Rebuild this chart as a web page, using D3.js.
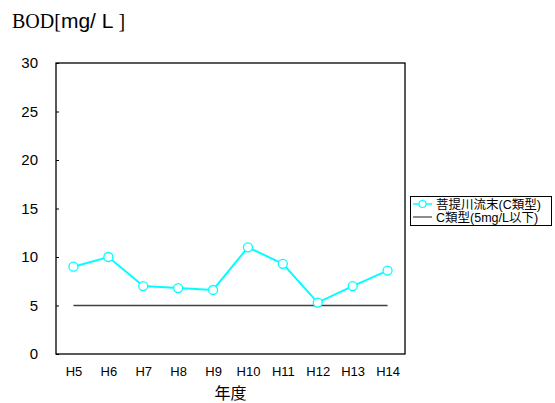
<!DOCTYPE html>
<html><head><meta charset="utf-8">
<script src="https://cdn.jsdelivr.net/npm/d3@7"></script>
<style>body{margin:0;background:#fff}svg{display:block}
.serif{font-family:"Liberation Serif","DejaVu Serif","Times New Roman",Times,serif}
.narrow{font-family:"Liberation Sans Narrow","Liberation Sans",Arial,sans-serif}</style>
</head><body>
<script>
const categories = ["H5","H6","H7","H8","H9","H10","H11","H12","H13","H14"];
const bodValues = [9.0,10.0,7.0,6.8,6.6,11.0,9.3,5.3,7.0,8.6];
const standardValues = [5,5,5,5,5,5,5,5,5,5];
const yTicks = [0,5,10,15,20,25,30];
const seriesNames = ["菩提川流末(C類型)","C類型(5mg/L以下)"];

const W=555,H=403;
const svg=d3.select("body").append("svg").attr("width",W).attr("height",H);
const m={l:56,r:405,t:63,b:354};
const x=d3.scalePoint().domain(categories).range([m.l,m.r]).padding(0.5);
const y=d3.scaleLinear().domain([0,30]).range([m.b,m.t]);
const font="'Liberation Sans',Arial,'Noto Sans CJK JP',sans-serif";

svg.append("rect").attr("x",m.l).attr("y",m.t).attr("width",m.r-m.l).attr("height",m.b-m.t)
  .attr("fill","none").attr("stroke","#000").attr("stroke-width",1.3);

const ya=svg.append("g").attr("transform",`translate(${m.l},0)`)
  .call(d3.axisLeft(y).tickValues(yTicks).tickSize(-3).tickPadding(18));
ya.select(".domain").remove();
ya.selectAll("line").attr("stroke","#000");
ya.selectAll("text").attr("font-family",font).attr("font-size",15).attr("fill","#000");

const xa=svg.append("g").attr("transform",`translate(0,${m.b})`)
  .call(d3.axisBottom(x).tickSize(0).tickPadding(13));
xa.select(".domain").remove();
xa.selectAll("text").attr("font-family",font).attr("font-size",13).attr("fill","#000");

svg.append("text").attr("x",(m.l+m.r)/2).attr("y",399).attr("text-anchor","middle")
  .attr("font-family",font).attr("font-size",16).text("年度");

const t=svg.append("text").attr("x",12).attr("y",28).attr("class","serif").attr("font-size",20);
t.append("tspan").text("BOD[");
t.append("tspan").attr("class","narrow").attr("font-size",21).text("mg/ L");
t.append("tspan").text(" ]");

const line=d3.line().x((d,i)=>x(categories[i])).y(d=>y(d));
svg.append("path").datum(standardValues).attr("d",line).attr("fill","none").attr("stroke","#404040").attr("stroke-width",1.5);
svg.append("path").datum(bodValues).attr("d",line).attr("fill","none").attr("stroke","#00FFFF").attr("stroke-width",2);
svg.selectAll("circle.pt").data(bodValues).enter().append("circle").attr("class","pt")
  .attr("cx",(d,i)=>x(categories[i])).attr("cy",d=>y(d)).attr("r",4.5)
  .attr("fill","#fff").attr("stroke","#00FFFF").attr("stroke-width",1.3);

// legend
const lg=svg.append("g");
lg.append("rect").attr("x",410.5).attr("y",196.5).attr("width",141).attr("height",29)
  .attr("fill","#fff").attr("stroke","#000").attr("stroke-width",1);
const rows=[{c:"#00FFFF",mk:true},{c:"#404040",mk:false}];
rows.forEach((r,i)=>{
  const cy=204+i*13;
  lg.append("line").attr("x1",413).attr("x2",432).attr("y1",cy).attr("y2",cy).attr("stroke",r.c).attr("stroke-width",r.mk?1.5:1.2);
  if(r.mk) lg.append("circle").attr("cx",422.5).attr("cy",cy).attr("r",3.5).attr("fill","#fff").attr("stroke",r.c).attr("stroke-width",1.2);
  lg.append("text").attr("x",436).attr("y",cy+4.5).attr("font-family",font).attr("font-size",12.5).text(seriesNames[i]);
});
</script>
</body></html>
